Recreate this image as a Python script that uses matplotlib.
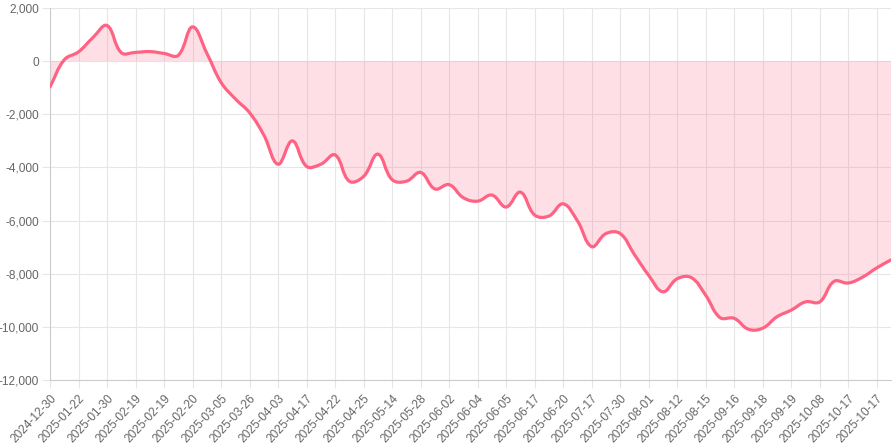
import matplotlib
matplotlib.use('Agg')
import matplotlib.pyplot as plt
from matplotlib.path import Path
from matplotlib.patches import PathPatch
from matplotlib.ticker import FuncFormatter
import numpy as np

# dates (only every second one is shown on the axis)
dates = [
    '2024-12-30', '2025-01-13', '2025-01-22', '2025-01-27', '2025-01-30', '2025-02-10',
    '2025-02-19', '2025-02-19', '2025-02-19', '2025-02-20', '2025-02-20', '2025-02-27',
    '2025-03-05', '2025-03-12', '2025-03-26', '2025-03-31', '2025-04-03', '2025-04-10',
    '2025-04-17', '2025-04-18', '2025-04-22', '2025-04-24', '2025-04-25', '2025-05-06',
    '2025-05-14', '2025-05-20', '2025-05-28', '2025-05-30', '2025-06-02', '2025-06-03',
    '2025-06-04', '2025-06-04', '2025-06-05', '2025-06-11', '2025-06-17', '2025-06-18',
    '2025-06-20', '2025-07-02', '2025-07-17', '2025-07-23', '2025-07-30', '2025-07-31',
    '2025-08-01', '2025-08-06', '2025-08-12', '2025-08-13', '2025-08-15', '2025-09-02',
    '2025-09-16', '2025-09-17', '2025-09-18', '2025-09-18', '2025-09-19', '2025-09-26',
    '2025-10-08', '2025-10-13', '2025-10-17', '2025-10-17', '2025-10-17', '2025-10-24',
]

# cumulative value
values = [
    -970, 50, 350, 880, 1340, 320, 330, 360, 290, 220,
    1290, 300, -800, -1420, -1940, -2780, -3880, -3000, -3960, -3880,
    -3530, -4520, -4340, -3500, -4460, -4520, -4190, -4810, -4650, -5140,
    -5270, -5040, -5490, -4930, -5790, -5830, -5370, -6010, -6980, -6490,
    -6490, -7280, -8060, -8680, -8190, -8150, -8810, -9650, -9680, -10090,
    -10050, -9620, -9370, -9060, -9060, -8290, -8350, -8130, -7780, -7480,
]

line_color = '#ff6384'
fill_color = (1.0, 99 / 255, 132 / 255, 0.2)
grid_color = '#e6e6e6'
axis_color = '#cccccc'
text_color = '#666666'

plt.rcParams['font.family'] = ['Liberation Sans', 'DejaVu Sans']

W, H = 892, 446
fig = plt.figure(figsize=(W / 100, H / 100), dpi=100)
ax = fig.add_axes([50 / W, (H - 380) / H, 841 / W, 372 / H])

n = len(values)
x = np.arange(n, dtype=float)
y = np.array(values, dtype=float)

ax.set_xlim(0, n - 1)
ax.set_ylim(-12000, 2000)

# smooth curve like a tension 0.4 spline, worked out in pixel space
trans = ax.transData
pts = trans.transform(np.column_stack([x, y]))
tension = 0.4
cp_prev = pts.copy()
cp_next = pts.copy()
for i in range(n):
    prev = pts[i - 1] if i > 0 else pts[i]
    nxt = pts[i + 1] if i < n - 1 else pts[i]
    d01 = np.hypot(*(pts[i] - prev))
    d12 = np.hypot(*(nxt - pts[i]))
    tot = d01 + d12
    s01 = d01 / tot if tot else 0
    s12 = d12 / tot if tot else 0
    cp_prev[i] = pts[i] - tension * s01 * (nxt - prev)
    cp_next[i] = pts[i] + tension * s12 * (nxt - prev)

inv = trans.inverted()
cp_prev = inv.transform(cp_prev)
cp_next = inv.transform(cp_next)

verts = [(x[0], y[0])]
codes = [Path.MOVETO]
for i in range(1, n):
    verts += [tuple(cp_next[i - 1]), tuple(cp_prev[i]), (x[i], y[i])]
    codes += [Path.CURVE4] * 3

line_path = Path(verts, codes)
fill_path = Path(verts + [(x[-1], 0), (x[0], 0), (x[0], y[0])],
                 codes + [Path.LINETO, Path.LINETO, Path.CLOSEPOLY])

ax.add_patch(PathPatch(fill_path, facecolor=fill_color, edgecolor='none', zorder=1))
ax.add_patch(PathPatch(line_path, facecolor='none', edgecolor=line_color, lw=2.3,
                       capstyle='round', joinstyle='round', zorder=3))

ax.set_xticks(x[::2])
ax.set_xticklabels(dates[::2], rotation=47, ha='right', va='top',
                   rotation_mode='anchor', fontsize=8.6, color=text_color)
ax.set_yticks(np.arange(-12000, 2001, 2000))
ax.yaxis.set_major_formatter(FuncFormatter(lambda v, p: f'{int(v):,}'))
ax.tick_params(axis='y', labelsize=8.6, labelcolor=text_color, pad=2)
ax.tick_params(axis='both', length=6, color=grid_color, width=0.8)
ax.tick_params(axis='x', pad=3)

ax.grid(True, color=grid_color, lw=0.8)
ax.set_axisbelow(True)
for s in ['top', 'right']:
    ax.spines[s].set_visible(False)
for s in ['left', 'bottom']:
    ax.spines[s].set_color(axis_color)
    ax.spines[s].set_linewidth(0.8)

fig.savefig('out.png', dpi=100)
